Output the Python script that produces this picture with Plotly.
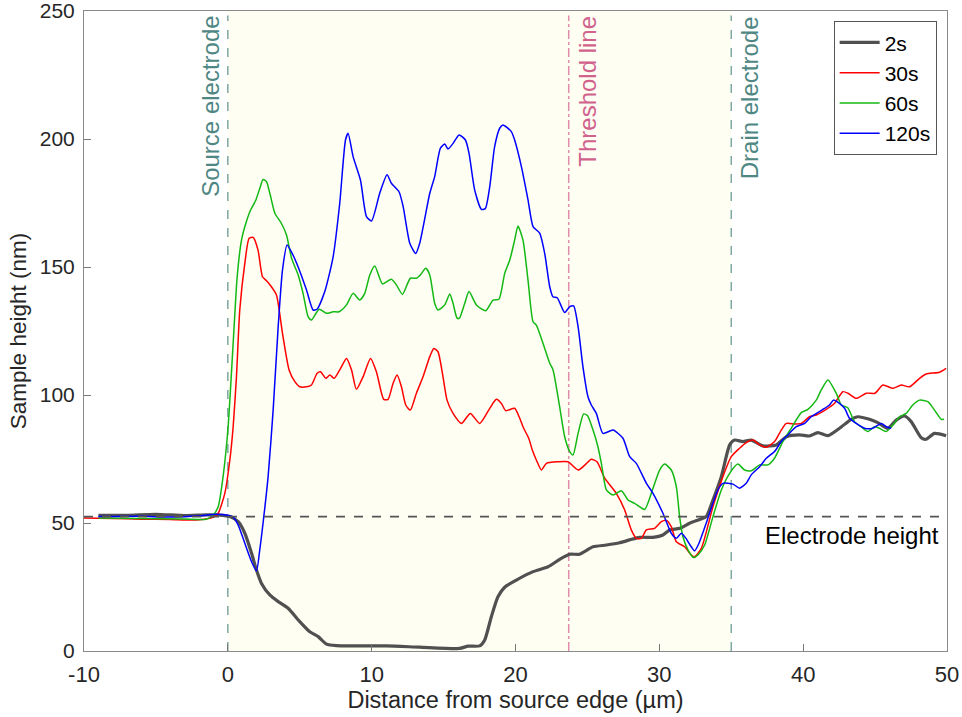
import plotly.graph_objects as go

# ---------------- data ----------------
x_2s = [-9.0, -7.0, -5.0, -3.0, -1.5, -0.56, 0.14, 0.72, 1.18, 1.65,
        1.99, 2.34, 2.92, 3.5, 4.19, 5.0, 5.7, 6.28, 6.86, 7.55,
        8.71, 11.03, 13.34, 16.12, 16.7, 17.51, 17.86, 18.32, 18.78, 19.25,
        20.06, 21.22, 22.26, 23.07, 23.77, 24.46, 25.39, 26.32, 27.24, 27.94,
        28.63, 29.56, 30.25, 30.72, 31.41, 32.1, 32.8, 33.26, 33.73, 34.31,
        34.89, 35.23, 35.81, 36.39, 37.2, 38.13, 38.83, 39.75, 40.44, 41.02,
        41.72, 42.53, 43.34, 43.8, 44.61, 45.19, 45.89, 46.47, 47.05, 47.51,
        48.21, 48.55, 49.13, 49.94]
y_2s = [53.0, 53.0, 53.4, 52.9, 53.2, 53.1, 52.5, 50.5, 46.0, 38.2,
        31.6, 26.4, 21.9, 19.3, 16.7, 11.5, 7.5, 5.6, 2.7, 2.1,
        2.0, 2.0, 1.5, 1.0, 1.9, 2.0, 4.3, 13.4, 21.2, 24.9,
        27.7, 31.0, 32.9, 35.8, 37.8, 37.8, 40.7, 41.4, 42.3, 43.4,
        44.4, 44.4, 45.3, 47.3, 47.9, 49.9, 51.4, 52.5, 59.0, 68.1,
        80.5, 82.4, 81.8, 82.4, 80.1, 80.5, 83.7, 84.4, 84.0, 85.3,
        84.1, 87.0, 90.5, 91.5, 90.5, 89.2, 87.0, 90.2, 91.8, 89.6,
        83.3, 82.7, 85.0, 84.1]

x_30s = [-10, -8, -6, -4, -2.2, -1.02, -0.67, -0.21, 0.14, 0.37,
         0.6, 0.83, 1.18, 1.48, 1.76, 2.1, 2.41, 2.69, 2.99, 3.38,
         3.8, 4.26, 4.66, 5.0, 5.47, 5.81, 6.21, 6.44, 6.81, 7.09,
         7.39, 7.78, 8.25, 8.6, 8.94, 9.4, 9.92, 10.33, 10.84, 11.14,
         11.49, 11.77, 12.07, 12.37, 12.69, 13.11, 13.57, 14.04, 14.32, 14.61,
         14.96, 15.24, 15.66, 16.24, 16.86, 17.51, 18.21, 18.67, 19.02, 19.32,
         19.94, 20.25, 20.57, 20.92, 21.17, 21.45, 21.8, 22.15, 22.95, 23.65,
         24.35, 24.8, 25.27, 25.67, 26.2, 27.01, 27.59, 28.05, 28.4, 28.75,
         29.1, 29.67, 30.14, 30.5, 30.83, 31.18, 31.76, 32.22, 32.45, 32.92,
         33.73, 34.42, 35.0, 35.58, 36.04, 36.51, 36.97, 37.44, 38.01, 38.48,
         38.83, 39.4, 39.87, 40.44, 40.91, 41.6, 42.18, 42.76, 43.11, 43.69,
         44.38, 45.0, 45.54, 46.24, 46.82, 47.39, 48.09, 48.55, 49.48, 49.94]
y_30s = [52.0, 51.8, 51.5, 51.4, 51.2, 52.2, 53.8, 61.6, 74.6, 87.6,
         107.1, 133.2, 151.4, 161.2, 161.6, 156.6, 146.2, 144.6, 142.6, 139.1,
         124.1, 109.8, 105.2, 103.2, 103.2, 103.9, 108.5, 109.1, 106.5, 107.8,
         106.5, 109.8, 114.3, 109.8, 102.2, 107.1, 114.3, 109.1, 98.3, 98.3,
         104.6, 107.8, 103.2, 96.1, 94.1, 100.7, 107.1, 115.0, 118.2, 116.9,
         107.1, 98.0, 92.8, 88.9, 92.8, 88.9, 94.8, 98.3, 96.7, 93.9,
         94.8, 91.5, 87.0, 83.1, 78.5, 74.6, 70.7, 73.3, 73.9, 73.9,
         70.7, 72.5, 74.9, 73.9, 67.5, 61.6, 55.1, 47.3, 44.0, 44.0,
         47.3, 47.9, 50.5, 51.0, 48.6, 42.7, 40.7, 37.5, 36.8, 40.1,
         56.4, 68.1, 75.9, 79.2, 81.4, 82.4, 80.5, 79.6, 81.8, 86.3,
         88.9, 88.7, 88.9, 91.5, 92.2, 94.4, 96.8, 101.3, 100.7, 98.7,
         100.7, 100.7, 103.9, 102.6, 103.9, 103.2, 106.5, 108.2, 108.9, 110.4]

x_60s = [-9.0, -6.0, -3.0, -1.5, -1.02, -0.67, -0.33, 0.02, 0.37, 0.65,
         0.95, 1.18, 1.53, 1.95, 2.22, 2.45, 2.69, 2.92, 3.27, 3.73,
         4.08, 4.43, 4.89, 5.23, 5.58, 5.81, 6.35, 6.86, 7.32, 7.73,
         8.25, 8.71, 9.17, 9.52, 9.87, 10.22, 10.75, 11.37, 11.72, 12.14,
         12.69, 13.11, 13.4, 13.76, 14.04, 14.38, 14.61, 15.08, 15.43, 15.65,
         15.94, 16.1, 16.47, 16.77, 17.28, 17.93, 18.44, 18.85, 19.25, 19.6,
         19.94, 20.17, 20.52, 20.87, 21.22, 21.45, 21.91, 22.38, 22.61, 23.07,
         23.42, 23.77, 24.0, 24.35, 24.74, 25.0, 25.39, 25.73, 25.97, 26.32,
         26.78, 27.36, 27.82, 28.28, 28.98, 29.56, 30.02, 30.37, 30.83, 31.18,
         31.41, 31.64, 31.99, 32.38, 32.68, 33.15, 33.73, 34.31, 34.89, 35.46,
         35.93, 36.39, 36.97, 37.55, 38.01, 38.59, 39.17, 39.87, 40.33, 40.91,
         41.26, 41.72, 42.3, 42.65, 43.1, 43.57, 44.03, 44.5, 44.96, 45.3,
         45.77, 46.24, 46.7, 47.16, 47.62, 48.09, 48.67, 49.13, 49.6, 49.8]
y_60s = [52.0, 51.8, 51.6, 51.5, 53.1, 56.4, 68.1, 87.6, 120.2, 146.2,
         160.5, 165.7, 171.6, 176.2, 180.7, 184.2, 183.3, 178.8, 171.0, 167.0,
         162.5, 153.4, 146.9, 139.7, 130.6, 129.3, 133.5, 131.9, 132.5, 132.5,
         135.2, 139.7, 137.1, 139.7, 146.9, 150.4, 143.4, 145.2, 143.0, 139.3,
         145.6, 145.6, 147.0, 149.5, 146.9, 135.8, 133.2, 135.2, 139.5, 136.0,
         130.0, 130.0, 135.8, 140.4, 135.2, 132.9, 137.1, 137.4, 147.5, 152.7,
         160.5, 166.0, 160.5, 144.9, 128.6, 127.3, 120.2, 112.4, 109.8, 95.4,
         83.7, 77.9, 76.6, 85.0, 92.6, 92.0, 86.3, 79.8, 73.3, 62.9,
         60.9, 62.6, 59.0, 57.7, 55.3, 63.6, 70.7, 73.0, 70.7, 64.2,
         52.5, 44.6, 39.5, 36.5, 37.5, 41.4, 52.5, 62.9, 69.4, 73.0,
         70.7, 70.4, 72.7, 72.7, 75.3, 81.8, 87.0, 93.1, 94.4, 98.0,
         102.0, 105.9, 100.7, 96.1, 95.0, 89.6, 87.6, 85.7, 87.6, 87.0,
         85.7, 88.3, 91.5, 92.8, 96.1, 98.0, 97.4, 94.1, 90.5, 90.5]

x_120s = [-9.0, -6.0, -4.0, -2.0, -0.8, -0.09, 0.37, 0.72, 1.18, 1.65,
          1.99, 2.22, 2.45, 2.8, 3.15, 3.5, 3.8, 4.12, 4.5, 4.89,
          5.47, 5.93, 6.2, 6.74, 7.32, 7.78, 8.18, 8.36, 8.71, 9.22,
          9.64, 9.99, 10.56, 11.07, 11.37, 11.9, 12.19, 12.65, 13.06, 13.34,
          14.04, 14.38, 14.78, 15.08, 15.31, 15.66, 16.08, 16.52, 16.77, 17.16,
          17.63, 17.9, 18.21, 18.55, 18.9, 19.13, 19.71, 19.94, 20.41, 20.87,
          21.22, 21.68, 22.03, 22.38, 22.6, 22.9, 23.42, 23.77, 24.04, 24.35,
          24.69, 25.04, 25.27, 25.62, 26.08, 26.78, 27.47, 27.94, 28.4, 29.1,
          29.56, 30.25, 30.83, 31.18, 31.53, 31.85, 32.22, 32.45, 32.75, 33.26,
          34.07, 34.42, 35.12, 35.58, 36.04, 36.39, 36.97, 37.44, 38.01, 38.48,
          38.94, 39.52, 40.1, 40.56, 41.3, 41.83, 42.11, 42.45, 42.88, 43.22,
          43.69, 44.27, 44.84, 45.43, 45.77, 46.12]
y_120s = [52.5, 52.6, 52.3, 52.8, 53.4, 53.1, 52.3, 49.2, 42.1, 34.9,
          31.3, 39.5, 50.0, 68.1, 94.1, 126.7, 148.8, 158.6, 155.0, 150.0,
          141.0, 133.2, 133.5, 140.4, 154.0, 174.9, 199.6, 202.2, 193.1, 184.0,
          169.7, 168.0, 178.8, 186.0, 182.7, 179.4, 173.6, 159.3, 155.3, 159.3,
          178.8, 185.3, 196.4, 198.0, 196.1, 198.3, 201.6, 199.6, 194.4, 180.1,
          172.5, 172.8, 181.4, 197.0, 204.2, 205.5, 202.9, 199.6, 189.2, 176.2,
          165.8, 163.2, 155.3, 142.3, 138.4, 138.0, 132.2, 134.5, 134.8, 126.7,
          111.0, 99.3, 96.1, 92.8, 85.0, 86.3, 83.1, 75.9, 73.3, 65.5,
          61.6, 53.8, 46.0, 44.0, 46.0, 44.0, 40.7, 39.1, 42.0, 49.9,
          62.9, 65.5, 65.2, 63.6, 65.5, 68.8, 72.0, 75.3, 77.9, 81.8,
          84.4, 87.6, 88.9, 91.5, 94.1, 96.1, 98.0, 97.0, 94.8, 90.9,
          88.9, 87.0, 87.0, 88.9, 87.6, 87.0]

x_ticks = [-10, 0, 10, 20, 30, 40, 50]
x_ticktext = ["-10", "0", "10", "20", "30", "40", "50"]
y_ticks = [0, 50, 100, 150, 200, 250]

source_x = 0
drain_x = 35
threshold_x = 23.7
electrode_height = 52.5

FONT = "Liberation Sans, Arial, Helvetica, sans-serif"

fig = go.Figure()
series = [
    ("2s", x_2s, y_2s, "#505050", 3.2),
    ("30s", x_30s, y_30s, "#ff0000", 1.5),
    ("60s", x_60s, y_60s, "#14b814", 1.5),
    ("120s", x_120s, y_120s, "#0000ff", 1.5),
]
for name, xs, ys, col, w in series:
    fig.add_trace(go.Scatter(x=xs, y=ys, mode="lines", name=name,
                             line=dict(color=col, width=w, shape="spline", smoothing=0.6)))

shapes = [
    dict(type="rect", xref="x", yref="paper", x0=source_x, x1=drain_x, y0=0, y1=1,
         fillcolor="#fefef3", line=dict(width=0), layer="below"),
    dict(type="line", xref="x", yref="paper", x0=source_x, x1=source_x, y0=0, y1=0.993,
         line=dict(color="#7fa7a3", width=1.5, dash="dash"), layer="below"),
    dict(type="line", xref="x", yref="paper", x0=drain_x, x1=drain_x, y0=0, y1=0.993,
         line=dict(color="#7fa7a3", width=1.5, dash="dash"), layer="below"),
    dict(type="line", xref="x", yref="paper", x0=threshold_x, x1=threshold_x, y0=0, y1=0.993,
         line=dict(color="#e08caa", width=1.5, dash="dashdot"), layer="below"),
    dict(type="line", xref="paper", yref="y", x0=0, x1=1, y0=electrode_height, y1=electrode_height,
         line=dict(color="#555555", width=1.6, dash="dash"), layer="above"),
]

annotations = [
    dict(text="Source electrode", x=source_x, xref="x", y=1, yref="paper", textangle=-90,
         xanchor="right", yanchor="top", xshift=-2, yshift=-3, showarrow=False,
         font=dict(size=24, color="#4e8783", family=FONT)),
    dict(text="Drain electrode", x=drain_x, xref="x", y=1, yref="paper", textangle=-90,
         xanchor="left", yanchor="top", xshift=3, yshift=-3, showarrow=False,
         font=dict(size=24, color="#4e8783", family=FONT)),
    dict(text="Threshold line", x=threshold_x, xref="x", y=1, yref="paper", textangle=-90,
         xanchor="left", yanchor="top", xshift=3, yshift=-3, showarrow=False,
         font=dict(size=24, color="#d0628c", family=FONT)),
    dict(text="Electrode height", x=1, xref="paper", y=electrode_height, yref="y",
         xanchor="right", yanchor="top", xshift=-6, yshift=-3, showarrow=False,
         font=dict(size=24, color="#000000", family=FONT)),
]

fig.update_layout(
    width=962, height=717,
    margin=dict(l=84, r=15, t=11, b=66),
    paper_bgcolor="white", plot_bgcolor="white",
    font=dict(family=FONT, color="#262626"),
    shapes=shapes, annotations=annotations,
    showlegend=True,
    legend=dict(x=0.988, xanchor="right", y=0.984, yanchor="top",
                bgcolor="white", bordercolor="#555555", borderwidth=1,
                font=dict(size=21, color="#000000", family=FONT),
                tracegroupgap=0, itemwidth=40),
    xaxis=dict(range=[-10, 50], tickvals=x_ticks, ticktext=x_ticktext,
               ticks="inside", ticklen=7, automargin=False, ticklabeloverflow="allow",
               ticklabelstandoff=4,
               tickcolor="#777777", showline=True, mirror=True, linecolor="#8a8a8a",
               linewidth=1, showgrid=False, zeroline=False,
               tickfont=dict(size=22, color="#262626"),
               title=dict(text="Distance from source edge (µm)", standoff=4,
                          font=dict(size=23.5, color="#262626"))),
    yaxis=dict(range=[0, 250], tickvals=y_ticks, ticks="inside", ticklen=7,
               automargin=False, ticklabeloverflow="allow",
               ticklabelstandoff=4,
               tickcolor="#777777", showline=True, mirror=True, linecolor="#8a8a8a",
               linewidth=1, showgrid=False, zeroline=False,
               tickfont=dict(size=21, color="#262626"),
               title=dict(text="Sample height (nm)", standoff=6,
                          font=dict(size=22.5, color="#262626"))),
)

fig.write_html("out.html")
